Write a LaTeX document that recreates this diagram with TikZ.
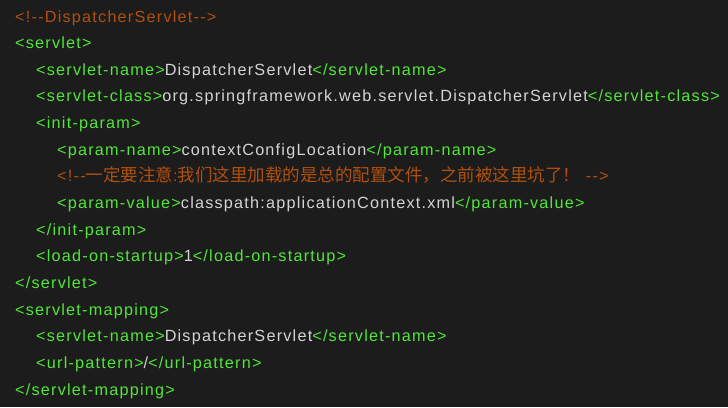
\documentclass[tikz,border=0pt]{standalone}
\usepackage{fontspec}
\setmainfont{Liberation Sans}[LetterSpace=7.6,Ligatures=TeXOff]
\newfontfamily\cjkfont{Noto Sans CJK SC}
\definecolor{bg}{HTML}{1C1C1C}
\definecolor{tagc}{HTML}{52E63A}
\definecolor{cmtc}{HTML}{B0500F}
\definecolor{txtc}{HTML}{D4D4D4}
\newcommand\xtag[1]{\textcolor{tagc}{#1}}
\newcommand\xtxt[1]{\textcolor{txtc}{#1}}
\newcommand\xcjk[1]{{\cjkfont\fontsize{17.5}{20}\selectfont #1}}
\tikzset{codeline/.style={anchor=base west,inner sep=0pt,font=\fontsize{16.2}{18}\selectfont}}
\begin{document}
\begin{tikzpicture}[x=1pt,y=-1pt]
\fill[bg] (0,0) rectangle (728,407);
\useasboundingbox (0,0) rectangle (728,407);
\def\dy{26.643}
\node[codeline,text=cmtc] (l1) at (15,22) {<!--DispatcherServlet-->};
\node[codeline] (l2) at (15,22+1*\dy) {\xtag{<servlet>}};
\node[codeline] (l3) at (36,22+2*\dy) {\xtag{<servlet-name>}\xtxt{DispatcherServlet}\xtag{</servlet-name>}};
\node[codeline] (l4) at (36,22+3*\dy) {\xtag{<servlet-class>}\xtxt{org.springframework.web.servlet.DispatcherServlet}\xtag{</servlet-class>}};
\node[codeline] (l5) at (36,22+4*\dy) {\xtag{<init-param>}};
\node[codeline] (l6) at (57,22+5*\dy) {\xtag{<param-name>}\xtxt{contextConfigLocation}\xtag{</param-name>}};
\node[codeline,text=cmtc] (l7) at (57,22+6*\dy) {<!--\xcjk{一定要注意}:\xcjk{我们这里加载的是总的配置文件，之前被这里坑了！} -->};
\node[codeline] (l8) at (57,22+7*\dy) {\xtag{<param-value>}\xtxt{classpath:applicationContext.xml}\xtag{</param-value>}};
\node[codeline] (l9) at (36,22+8*\dy) {\xtag{</init-param>}};
\node[codeline] (l10) at (36,22+9*\dy) {\xtag{<load-on-startup>}\xtxt{1}\xtag{</load-on-startup>}};
\node[codeline] (l11) at (15,22+10*\dy) {\xtag{</servlet>}};
\node[codeline] (l12) at (15,22+11*\dy) {\xtag{<servlet-mapping>}};
\node[codeline] (l13) at (36,22+12*\dy) {\xtag{<servlet-name>}\xtxt{DispatcherServlet}\xtag{</servlet-name>}};
\node[codeline] (l14) at (36,22+13*\dy) {\xtag{<url-pattern>}\xtxt{/}\xtag{</url-pattern>}};
\node[codeline] (l15) at (15,22+14*\dy) {\xtag{</servlet-mapping>}};
\end{tikzpicture}
\end{document}
